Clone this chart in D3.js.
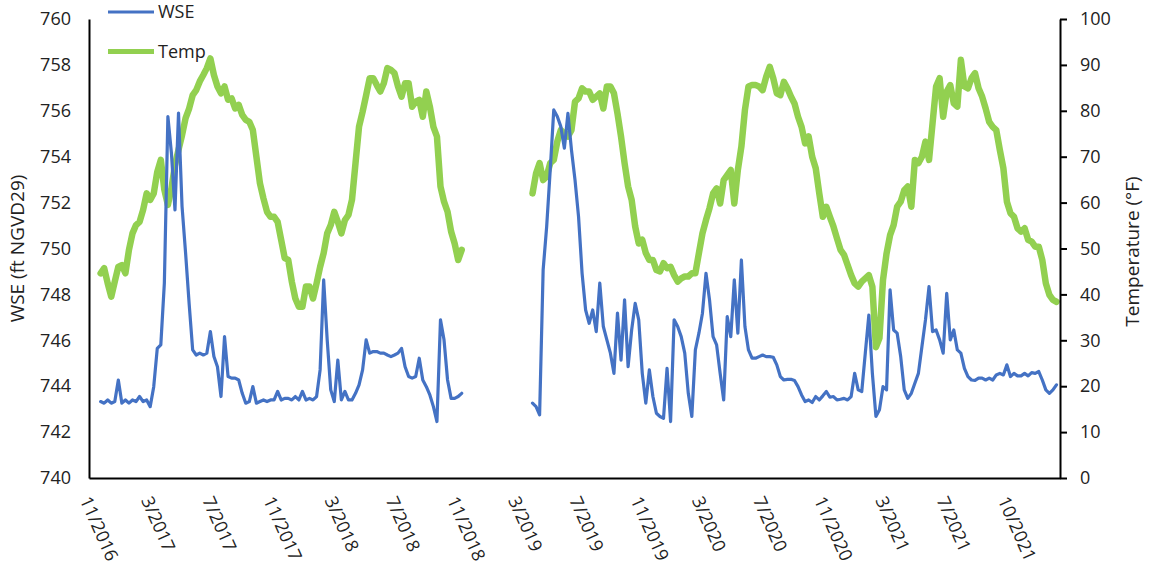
<!DOCTYPE html>
<html><head><meta charset="utf-8">
<script src="https://cdn.jsdelivr.net/npm/d3@7"></script>
<style>
body{margin:0;background:#fff;}
svg text{font-family:"Open Sans",sans-serif;fill:#222;}
</style></head><body>
<svg id="c" width="1151" height="571"></svg>
<script>
// one reading kept every 7 days, starting on this date
const seriesStart = "2016-12-03";
const stepDays = 7;

// water surface elevation (ft NGVD29)
const wse = [
743.33,743.26,743.4,743.26,743.33,744.27,743.26,743.4,743.26,743.4,
743.33,743.55,743.33,743.4,743.11,743.98,745.65,745.8,748.49,755.75,
754.15,751.68,755.9,751.83,749.8,747.6,745.58,745.36,745.44,745.36,
745.44,746.38,745.29,744.85,743.55,746.16,744.42,744.35,744.35,744.27,
743.69,743.26,743.33,743.98,743.26,743.33,743.4,743.33,743.4,743.4,
743.77,743.4,743.47,743.47,743.4,743.55,743.4,743.77,743.4,743.47,
743.4,743.55,744.71,748.63,746.02,743.84,743.33,745.14,743.4,743.77,
743.4,743.4,743.69,744.06,744.71,746.02,745.44,745.51,745.51,745.44,
745.44,745.36,745.29,745.36,745.44,745.65,744.85,744.42,744.35,744.42,
745.22,744.27,743.98,743.62,743.11,742.46,746.89,746.02,744.27,743.47,
743.47,743.55,743.69,
null,null,null,null,null,null,null,null,null,null,null,null,null,null,null,null,null,null,null,
743.26,743.11,742.75,749.07,750.96,753.42,756.04,755.75,
755.31,754.37,755.89,754.3,752.99,751.39,748.92,747.32,746.74,747.32,
746.38,748.49,746.6,746.02,745.44,744.56,747.18,745.14,747.76,744.85,
746.45,747.61,746.89,744.56,743.26,744.71,743.55,742.82,742.68,742.6,
744.78,742.46,746.89,746.6,746.16,745.44,743.69,742.68,745.58,746.31,
747.18,748.92,747.76,746.16,745.8,744.56,743.4,747.03,746.16,748.63,
746.31,749.5,746.6,745.58,745.22,745.22,745.29,745.36,745.29,745.29,
745.26,744.93,744.42,744.27,744.3,744.3,744.25,743.98,743.62,743.33,
743.4,743.29,743.55,743.4,743.58,743.77,743.52,743.55,743.4,743.43,
743.47,743.4,743.55,744.56,743.84,743.77,745.44,747.1,744.56,742.68,
742.97,743.98,743.84,748.2,746.45,746.31,745.29,743.84,743.47,743.69,
744.13,744.56,745.73,746.89,748.34,746.38,746.45,746.02,745.44,748.05,
746.02,746.45,745.58,745.44,744.78,744.42,744.27,744.25,744.35,744.35,
744.27,744.35,744.27,744.49,744.56,744.49,744.93,744.42,744.56,744.45,
744.45,744.56,744.45,744.59,744.56,744.64,744.27,743.84,743.69,743.84,744.06
];

// water temperature (°F)
const temp = [
44.6,45.7,42.4,39.5,42.8,46.0,46.4,44.6,49.7,53.3,
55.1,55.8,58.4,62.0,60.6,62.0,66.7,69.3,62.8,59.5,
63.1,68.2,71.5,74.7,78.4,80.5,83.4,84.5,86.4,87.8,
89.3,91.4,87.8,85.3,83.8,85.3,82.4,82.7,80.5,81.3,
79.1,78.0,77.6,75.8,70.0,64.2,60.9,58.0,56.9,56.9,
55.8,51.9,47.9,47.5,42.8,39.1,37.3,37.3,41.7,41.7,
39.1,42.4,46.0,49.0,53.3,55.1,58.0,55.8,53.3,56.2,
57.3,60.6,68.6,76.6,79.8,83.4,87.1,87.1,85.6,84.2,
86.0,89.3,88.9,88.2,85.3,83.1,86.0,86.0,80.9,82.0,
82.4,78.7,84.2,80.9,76.5,74.4,63.5,60.2,58.0,53.7,
51.1,47.5,49.7,
null,null,null,null,null,null,null,null,null,null,null,null,null,null,null,null,null,null,null,
62.0,66.4,68.6,64.9,65.7,68.6,69.3,73.3,
75.8,75.1,74.4,75.8,82.0,82.7,84.9,84.2,84.2,82.4,
83.1,83.8,80.5,85.3,85.3,83.8,79.4,74.4,68.6,63.5,
60.6,54.8,51.1,51.9,49.0,47.5,47.5,45.3,45.0,46.8,
45.7,46.0,44.2,42.8,43.5,43.9,43.9,44.6,44.6,49.0,
53.3,56.2,58.8,62.0,63.1,59.8,64.9,66.0,67.1,59.8,
67.1,72.2,80.2,85.3,85.6,85.6,85.3,84.5,87.4,89.6,
87.1,83.8,83.4,86.3,84.9,83.1,81.6,78.7,76.5,72.9,
74.4,70.0,67.5,62.0,56.9,59.1,56.9,54.8,52.2,49.7,
48.6,46.4,44.2,42.4,41.7,42.8,43.5,44.2,41.7,28.5,
30.5,43.1,48.9,52.9,55.1,59.1,60.2,62.7,63.5,59.1,
69.3,68.6,70.0,73.3,69.3,77.3,85.3,87.1,78.7,84.2,
85.6,81.6,80.9,91.1,85.3,84.9,87.1,88.2,84.9,83.1,
80.5,77.6,76.5,75.8,71.5,67.5,60.2,57.7,56.9,54.4,
53.7,54.4,51.9,51.5,50.4,50.4,47.5,42.4,39.9,38.8,38.4
];

const xDomain = ["2016-11-10", "2022-02-12"];
const tickDates = ["2016-11-10","2017-03-11","2017-07-10","2017-11-08","2018-03-09","2018-07-08",
  "2018-11-06","2019-03-07","2019-07-06","2019-11-04","2020-03-04","2020-07-03","2020-11-01",
  "2021-03-02","2021-07-01","2021-10-30"];
const tickLabels = ["11/2016","3/2017","7/2017","11/2017","3/2018","7/2018","11/2018","3/2019",
  "7/2019","11/2019","3/2020","7/2020","11/2020","3/2021","7/2021","10/2021"];
const wseTicks = [740,742,744,746,748,750,752,754,756,758,760];
const tempTicks = [0,10,20,30,40,50,60,70,80,90,100];
const seriesNames = ["WSE","Temp"];
const leftTitle = "WSE (ft NGVD29)";
const rightTitle = "Temperature (°F)";

const parse = d3.timeParse("%Y-%m-%d");
const start = parse(seriesStart);
const dates = wse.map((_, i) => d3.timeDay.offset(start, i * stepDays));

const L = 89, R = 1060, T = 19, B = 478;
const svg = d3.select("#c");
const x = d3.scaleTime().domain(xDomain.map(parse)).range([L, R]);
const yL = d3.scaleLinear().domain([740, 760]).range([B, T]);
const yR = d3.scaleLinear().domain([0, 100]).range([B, T]);

const blue = "#4472C4", green = "#92D050";

// series
const lineT = d3.line().defined(d => d[1] != null).x(d => x(d[0])).y(d => yR(d[1]));
const lineW = d3.line().defined(d => d[1] != null).x(d => x(d[0])).y(d => yL(d[1]));
svg.append("path").datum(dates.map((d, i) => [d, temp[i]]))
  .attr("d", lineT).attr("fill", "none").attr("stroke", green)
  .attr("stroke-width", 6.5).attr("stroke-linejoin", "round").attr("stroke-linecap", "round");
svg.append("path").datum(dates.map((d, i) => [d, wse[i]]))
  .attr("d", lineW).attr("fill", "none").attr("stroke", blue)
  .attr("stroke-width", 3.2).attr("stroke-linejoin", "round").attr("stroke-linecap", "round");

// left axis
const gl = svg.append("g").attr("transform", `translate(${L},0)`)
  .call(d3.axisLeft(yL).tickValues(wseTicks).tickSize(0).tickPadding(18));
gl.select(".domain").attr("stroke", "#000").attr("stroke-width", 2);
gl.selectAll("text").style("font-size", "18px").attr("fill", "#222");

// right axis
const gr = svg.append("g").attr("transform", `translate(${R},0)`)
  .call(d3.axisRight(yR).tickValues(tempTicks).tickSizeInner(7).tickSizeOuter(0).tickPadding(13));
gr.select(".domain").attr("stroke", "#000").attr("stroke-width", 2);
gr.selectAll(".tick line").attr("stroke", "#000").attr("stroke-width", 2);
gr.selectAll("text").style("font-size", "18px").attr("fill", "#222");

// bottom axis
const gb = svg.append("g").attr("transform", `translate(0,${B})`)
  .call(d3.axisBottom(x).tickValues(tickDates.map(parse)).tickFormat((d, i) => tickLabels[i]).tickSize(0));
gb.select(".domain").attr("stroke", "#000").attr("stroke-width", 2);
gb.selectAll("text").style("font-size", "18px").attr("fill", "#222")
  .attr("x", 0).attr("y", 0).attr("dy", 0)
  .attr("text-anchor", "start")
  .attr("transform", "translate(-10,22) rotate(66)");

// axis titles
svg.append("text").attr("transform", `translate(24,${(T + B) / 2}) rotate(-90)`)
  .attr("text-anchor", "middle").style("font-size", "19px").text(leftTitle);
svg.append("text").attr("transform", `translate(1139,${(T + B) / 2 + 3}) rotate(-90)`)
  .attr("text-anchor", "middle").style("font-size", "19px").text(rightTitle);

// legend
const lg = svg.append("g");
[blue, green].forEach((c, i) => {
  const yy = 12 + i * 39.5;
  lg.append("line").attr("x1", 108).attr("x2", 154).attr("y1", yy).attr("y2", yy)
    .attr("stroke", c).attr("stroke-width", i ? 5 : 3);
  lg.append("text").attr("x", 158).attr("y", yy).attr("dy", "0.35em")
    .style("font-size", "18px").text(seriesNames[i]);
});
</script>
</body></html>
